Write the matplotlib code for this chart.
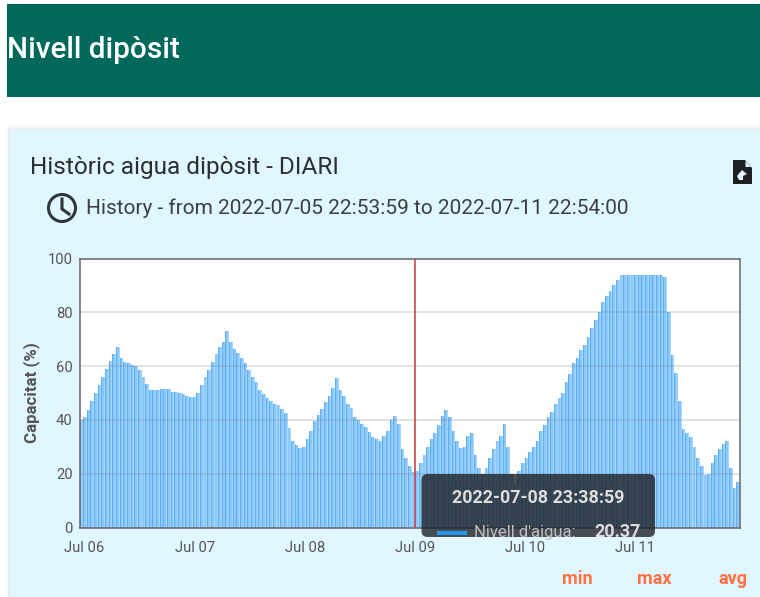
import numpy as np
import matplotlib
matplotlib.use("Agg")
import matplotlib.pyplot as plt
import matplotlib.dates as mdates
from matplotlib.patches import Rectangle, FancyBboxPatch, Circle, Polygon

plt.rcParams['font.family'] = ['Roboto', 'DejaVu Sans']

HEADER = "Nivell dipòsit"
TITLE = "Històric aigua dipòsit - DIARI"
SUBTITLE = "History - from 2022-07-05 22:53:59 to 2022-07-11 22:54:00"
Y_LABEL = "Capacitat (%)"
TOOLTIP_TIME = "2022-07-08 23:38:59"
TOOLTIP_SERIES = "Nivell d'aigua:"
TOOLTIP_VALUE = "20.37"
STATS = ["min", "max", "avg"]
Y_TICKS = [0, 20, 40, 60, 80, 100]
START = np.datetime64("2022-07-05T22:53:59")
END = np.datetime64("2022-07-11T22:54:00")
CURSOR = np.datetime64("2022-07-08T23:38:59")
TICK_DATES = ["2022-07-06", "2022-07-07", "2022-07-08", "2022-07-09", "2022-07-10", "2022-07-11"]
TICK_LABELS = ["Jul 06", "Jul 07", "Jul 08", "Jul 09", "Jul 10", "Jul 11"]

level = [
    40, 41, 43.5, 47, 50, 53, 56, 59, 62, 64.5, 67, 63, 61.5, 61, 60.3, 60, 58.5, 56, 53.5, 51,
    51, 51.2, 51.4, 51.5, 51.5, 50.5, 50.2, 50, 49.5, 49, 48.5, 48.5, 50, 53, 56, 58.5, 61.5, 64.5, 67, 69,
    73, 69, 66.5, 65, 63, 61, 58.5, 56, 54, 51, 49.5, 48, 47, 46, 45.5, 44, 42.5, 37, 32, 30.5,
    29.5, 30, 33, 36, 39.5, 42, 44, 46.5, 49, 52, 55.5, 51, 49, 46, 44.5, 41, 40, 38.5, 37.5, 35.5,
    33.5, 33, 32, 34, 36, 40, 41.5, 38.5, 29, 26, 23, 20.5, 21, 24, 27, 30, 33, 35, 38, 41.5,
    43.5, 41, 36, 32, 29.5, 30, 34, 35, 27, 22, 20, 22, 26, 29, 32, 34, 38.5, 30, 20, 16,
    21, 24, 26, 28, 30, 32, 36, 38, 41, 43, 46, 48, 50, 54, 57, 61, 63, 66, 68, 71,
    74, 77, 80, 84, 86, 88, 90, 92, 94, 94, 94, 94, 94, 94, 94, 94, 94, 94, 94, 94,
    93, 80, 64, 57.5, 47, 36.5, 35, 33.5, 30, 26, 23, 19.5, 20, 24, 27, 29, 31, 32, 22, 14.5,
]
level.append(17)

W, H = 760, 597
fig = plt.figure(figsize=(W / 100, H / 100), dpi=100, facecolor="white")

# page furniture, drawn in pixel coordinates
bg = fig.add_axes([0, 0, 1, 1], zorder=0)
bg.set_xlim(0, W); bg.set_ylim(H, 0); bg.axis("off")
bg.add_patch(Rectangle((7, 4), 753, 92.5, fc="#00695C", ec="none"))
for k, c in enumerate(["#fafafa", "#f3f3f3", "#ebebeb"]):
    bg.add_patch(Rectangle((7 + k * 0.6, 125 + k * 1.4), 753, 475, fc=c, ec="none"))
bg.add_patch(Rectangle((9.5, 129), 751, 470, fc="#E0F7FF", ec="none"))
bg.text(7, 49.5, HEADER, color="white", fontsize=21.4, fontweight="medium", va="center", ha="left")
bg.text(30, 167.5, TITLE, color="#2b2f33", fontsize=17.6, va="center", ha="left")
bg.text(86, 208.5, SUBTITLE, color="#3a3f44", fontsize=15, va="center", ha="left")
bg.add_patch(Circle((62, 208), 13.5, fc="none", ec="#30353a", lw=2.2))
bg.plot([62, 62, 69], [199, 209, 214], color="#30353a", lw=2.2, solid_joinstyle="miter")
bg.add_patch(Polygon([(733, 160), (745, 160), (752, 168), (752, 184), (733, 184)], fc="#1c1f22", ec="none"))
bg.add_patch(Polygon([(745.5, 161), (751, 167), (745.5, 167)], fc="#E0F7FF", ec="none"))
bg.add_patch(Polygon([(737, 176), (742, 170), (747, 174), (743, 176), (743, 180), (739, 180)], fc="#E0F7FF", ec="none"))
bg.text(32, 393, Y_LABEL, color="#555555", fontsize=12.2, fontweight="bold", rotation=90, va="center", ha="center")
for s, x in zip(STATS, [577, 654, 733]):
    bg.text(x, 579, s, color="#FF7043", fontsize=13, fontweight="bold", va="center", ha="center")

# chart
ax = fig.add_axes([79.5 / W, 1 - 527.5 / H, 660.5 / W, 269 / H], zorder=1)
values = np.array(level, dtype=float)
t0 = mdates.date2num(START)
t1 = mdates.date2num(END)
x = np.linspace(t0, t1, len(values), endpoint=False)
step = x[1] - x[0]
ax.bar(x, values, width=step, align="edge", color="#A8D6FB", edgecolor="none", zorder=1.9)
ax.bar(x, values, width=step * 0.75, align="edge", color="#8CC8F9", edgecolor="none", zorder=2)
ax.bar(x, values, width=step * 0.25, align="edge", color="#5AB0F6", edgecolor="none", zorder=2.1)
ax.set_xlim(t0, t1)
ax.set_ylim(0, 100)
ax.set_yticks(Y_TICKS)
ax.set_xticks(mdates.date2num(np.array(TICK_DATES, dtype="datetime64[D]")))
ax.set_xticklabels(TICK_LABELS)
ax.tick_params(axis="both", length=0, labelsize=10.6, labelcolor="#555555")
ax.tick_params(axis="x", pad=10)
ax.tick_params(axis="y", pad=5)
ax.grid(axis="y", color="#777777", alpha=0.25, lw=1.2, zorder=3)
ax.set_axisbelow(False)
for sp in ax.spines.values():
    sp.set_color("#666666")
    sp.set_linewidth(1.1)
ax.axvline(mdates.date2num(CURSOR) + step / 2, color="#C9474A", lw=1.2, zorder=4)

# tooltip
fg = fig.add_axes([0, 0, 1, 1], zorder=2)
fg.set_xlim(0, W); fg.set_ylim(H, 0); fg.axis("off"); fg.patch.set_alpha(0)
fg.add_patch(FancyBboxPatch((421.5, 474), 233.5, 63, boxstyle="round,pad=0,rounding_size=6",
                            mutation_aspect=1, fc="#1f2226", ec="none", alpha=0.8))
fg.text(538.5, 498, TOOLTIP_TIME, color="#dddddd", fontsize=12.9, fontweight="bold", va="center", ha="center")
fg.add_patch(Rectangle((437, 531), 30, 4, fc="#2196F3", ec="none"))
fg.text(474.5, 532, TOOLTIP_SERIES, color="#bdbdbd", fontsize=12, va="center", ha="left")
fg.text(594, 532, TOOLTIP_VALUE, color="#dddddd", fontsize=13, fontweight="bold", va="center", ha="left")

fig.savefig("out.png", dpi=100, facecolor="white")
